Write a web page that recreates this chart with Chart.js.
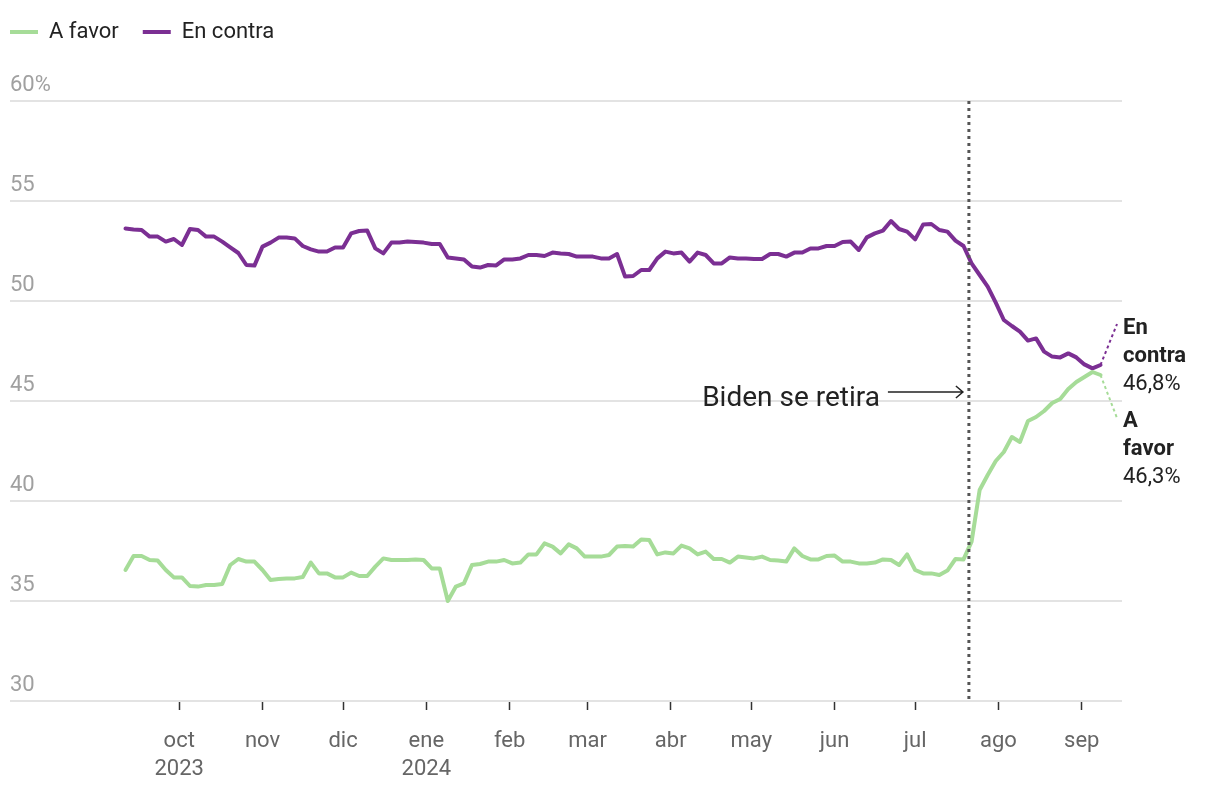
<!DOCTYPE html>
<html lang="es">
<head>
<meta charset="utf-8">
<title>A favor / En contra</title>
<script src="https://cdn.jsdelivr.net/npm/chart.js@4.4.1/dist/chart.umd.min.js"></script>
<style>
  html, body { margin: 0; padding: 0; background: #fff; }
  #wrap { position: relative; width: 1220px; height: 792px; }
</style>
</head>
<body>
<div id="wrap"><canvas id="chart" width="1220" height="792"></canvas></div>
<script>
// Primera lectura y separación entre lecturas (en días)
const startDate = '2023-09-11';
const stepDays = 3;

// Promedios (%)
const aFavor = [
  36.55, 37.25, 37.25, 37.05, 37.02, 36.55, 36.18, 36.18, 35.75, 35.72,
  35.8, 35.8, 35.85, 36.8, 37.1, 36.97, 36.97, 36.55, 36.05, 36.1,
  36.13, 36.13, 36.2, 36.92, 36.38, 36.38, 36.18, 36.18, 36.42, 36.25,
  36.25, 36.72, 37.13, 37.05, 37.05, 37.05, 37.08, 37.05, 36.63, 36.63,
  35.0, 35.72, 35.88, 36.8, 36.85, 36.97, 36.97, 37.05, 36.88, 36.92,
  37.33, 37.33, 37.88, 37.72, 37.38, 37.83, 37.63, 37.22, 37.22, 37.22,
  37.3, 37.72, 37.75, 37.72, 38.08, 38.05, 37.33, 37.43, 37.38, 37.77,
  37.63, 37.33, 37.47, 37.1, 37.1, 36.92, 37.22, 37.18, 37.13, 37.22,
  37.05, 37.02, 36.97, 37.63, 37.25, 37.08, 37.08, 37.25, 37.27, 36.97,
  36.97, 36.88, 36.88, 36.92, 37.08, 37.05, 36.8, 37.33, 36.55, 36.38,
  36.38, 36.3, 36.52, 37.1, 37.08, 37.97, 40.55, 41.3, 42.0, 42.45,
  43.2, 42.95, 44.0, 44.2, 44.5, 44.9, 45.1, 45.6, 45.95, 46.2,
  46.45, 46.3
];
const enContra = [
  53.63, 53.58, 53.55, 53.22, 53.22, 52.97, 53.1, 52.8, 53.6, 53.55,
  53.22, 53.22, 52.97, 52.68, 52.4, 51.8, 51.77, 52.72, 52.92, 53.17,
  53.18, 53.13, 52.75, 52.58, 52.47, 52.47, 52.68, 52.68, 53.38, 53.5,
  53.52, 52.63, 52.38, 52.92, 52.93, 52.97, 52.95, 52.92, 52.85, 52.85,
  52.17, 52.13, 52.08, 51.72, 51.67, 51.8, 51.78, 52.08, 52.08, 52.13,
  52.3, 52.3, 52.25, 52.42, 52.38, 52.35, 52.22, 52.22, 52.22, 52.13,
  52.13, 52.35, 51.22, 51.25, 51.55, 51.55, 52.13, 52.47, 52.38, 52.42,
  51.97, 52.42, 52.3, 51.88, 51.88, 52.18, 52.13, 52.13, 52.1, 52.1,
  52.35, 52.35, 52.22, 52.42, 52.42, 52.63, 52.63, 52.75, 52.75, 52.95,
  52.97, 52.55, 53.18, 53.38, 53.52, 54.0, 53.6, 53.47, 53.08, 53.83,
  53.85, 53.55, 53.47, 53.02, 52.75, 51.88, 51.3, 50.72, 49.92, 49.05,
  48.75, 48.47, 48.02, 48.13, 47.47, 47.22, 47.18, 47.38, 47.18, 46.83,
  46.63, 46.8
];

// Eje X: inicio de cada mes
const monthTicks = ['2023-10-01', '2023-11-01', '2023-12-01', '2024-01-01', '2024-02-01', '2024-03-01',
                    '2024-04-01', '2024-05-01', '2024-06-01', '2024-07-01', '2024-08-01', '2024-09-01'];
const monthNames = ['oct', 'nov', 'dic', 'ene', 'feb', 'mar', 'abr', 'may', 'jun', 'jul', 'ago', 'sep'];
const yearLabels = ['2023', '', '', '2024', '', '', '', '', '', '', '', ''];
const yTicks = [30, 35, 40, 45, 50, 55, 60];

const bidenDate = '2024-07-21';
const bidenText = 'Biden se retira';

const GREEN = '#a6dc98';
const PURPLE = '#7b2f93';
const FONT = 'Roboto, "Noto Sans", sans-serif';

// días desde el 1 de enero de 2023
function dayNum(d) {
    return (Date.parse(d) - Date.parse('2023-01-01')) / 864e5;
}

function toPoints(values) {
    const d0 = dayNum(startDate);
    return values.map((v, i) => ({ x: d0 + i * stepDays, y: v }));
}

function fmtPct(v) {
    return v.toFixed(1).replace('.', ',') + '%';
}

// Separación entre la leyenda y el área del gráfico
const legendSpacer = {
    id: 'legendSpacer',
    beforeInit(chart) {
        const fit = chart.legend.fit;
        chart.legend.fit = function () {
            fit.bind(chart.legend)();
            this.height = 104;
        };
    }
};

// Línea de Biden, flecha y etiquetas finales
const annotations = {
    id: 'annotations',
    afterDatasetsDraw(chart) {
        const { ctx, chartArea, scales: { x, y } } = chart;
        const bx = x.getPixelForValue(dayNum(bidenDate));
        ctx.save();

        ctx.strokeStyle = '#555';
        ctx.lineWidth = 3;
        ctx.setLineDash([3, 4]);
        ctx.beginPath();
        ctx.moveTo(bx, chartArea.top);
        ctx.lineTo(bx, chartArea.bottom);
        ctx.stroke();
        ctx.setLineDash([]);

        // flecha
        const ay = y.getPixelForValue(45) - 9;
        ctx.strokeStyle = '#222';
        ctx.lineWidth = 1.5;
        ctx.beginPath();
        ctx.moveTo(bx - 81, ay);
        ctx.lineTo(bx - 6, ay);
        ctx.moveTo(bx - 13, ay - 6);
        ctx.lineTo(bx - 6, ay);
        ctx.lineTo(bx - 13, ay + 6);
        ctx.stroke();

        ctx.fillStyle = '#222';
        ctx.font = '28px ' + FONT;
        ctx.textAlign = 'right';
        ctx.textBaseline = 'alphabetic';
        ctx.fillText(bidenText, bx - 89, y.getPixelForValue(45) + 5);

        // etiquetas al final de cada serie
        const lx = chartArea.right + 1;
        const ends = [
            { ds: 1, color: PURPLE, lines: ['En', 'contra'], value: enContra[enContra.length - 1], top: 48.65 },
            { ds: 0, color: GREEN, lines: ['A', 'favor'], value: aFavor[aFavor.length - 1], top: 44.0 }
        ];
        ends.forEach(e => {
            const meta = chart.getDatasetMeta(e.ds);
            const last = meta.data[meta.data.length - 1];
            const ty = y.getPixelForValue(e.top);
            const tipY = e.ds === 1 ? ty - 4 : ty - 3;
            ctx.strokeStyle = e.color;
            ctx.lineWidth = 2;
            ctx.setLineDash([3, 3]);
            ctx.beginPath();
            ctx.moveTo(last.x, last.y);
            ctx.lineTo(lx - 6, tipY);
            ctx.stroke();
            ctx.setLineDash([]);

            ctx.fillStyle = '#222';
            ctx.textAlign = 'left';
            ctx.textBaseline = 'middle';
            ctx.font = 'bold 22px ' + FONT;
            ctx.fillText(e.lines[0], lx, ty);
            ctx.fillText(e.lines[1], lx, ty + 28);
            ctx.font = '22px ' + FONT;
            ctx.fillText(fmtPct(e.value), lx, ty + 56);
        });
        ctx.restore();
    }
};

const ctx = document.getElementById('chart');
new Chart(ctx, {
    type: 'line',
    data: {
        datasets: [{
            label: 'A favor',
            data: toPoints(aFavor),
            borderColor: GREEN,
            backgroundColor: GREEN,
            borderWidth: 4,
            borderCapStyle: 'round',
            borderJoinStyle: 'round',
            pointRadius: 0,
            tension: 0
        }, {
            label: 'En contra',
            data: toPoints(enContra),
            borderColor: PURPLE,
            backgroundColor: PURPLE,
            borderWidth: 4,
            borderCapStyle: 'round',
            borderJoinStyle: 'round',
            pointRadius: 0,
            tension: 0
        }]
    },
    options: {
        responsive: false,
        animation: false,
        layout: { padding: { left: -14, right: 98, top: -3, bottom: 0 } },
        plugins: {
            legend: {
                align: 'start',
                labels: {
                    usePointStyle: true,
                    pointStyle: 'line',
                    pointStyleWidth: 28,
                    color: '#222',
                    padding: 24,
                    font: { family: FONT, size: 22 }
                }
            },
            tooltip: { enabled: false }
        },
        scales: {
            x: {
                type: 'linear',
                min: dayNum('2023-07-30'),
                max: dayNum('2024-09-16'),
                afterBuildTicks: s => { s.ticks = monthTicks.map(d => ({ value: dayNum(d) })); },
                afterFit: s => { s.height = 91; },
                ticks: {
                    autoSkip: false,
                    maxRotation: 0,
                    color: '#666',
                    padding: 18,
                    font: { family: FONT, size: 22, lineHeight: 1.27 },
                    callback: (v, i) => yearLabels[i] ? [monthNames[i], yearLabels[i]] : monthNames[i]
                },
                grid: {
                    drawOnChartArea: false,
                    drawTicks: true,
                    tickLength: 9,
                    tickColor: '#333',
                    tickWidth: 1.5
                },
                border: { display: false }
            },
            y: {
                min: 30,
                max: 60,
                afterFit: s => { s.width = 24; },
                afterBuildTicks: s => { s.ticks = yTicks.map(v => ({ value: v })); },
                ticks: {
                    mirror: true,
                    padding: 0,
                    labelOffset: -16,
                    color: '#a0a0a0',
                    font: { family: FONT, size: 22 },
                    callback: v => v === 60 ? v + '%' : String(v)
                },
                grid: {
                    color: '#e3e3e3',
                    lineWidth: 2,
                    drawTicks: false
                },
                border: { display: false }
            }
        }
    },
    plugins: [legendSpacer, annotations]
});
</script>
</body>
</html>
